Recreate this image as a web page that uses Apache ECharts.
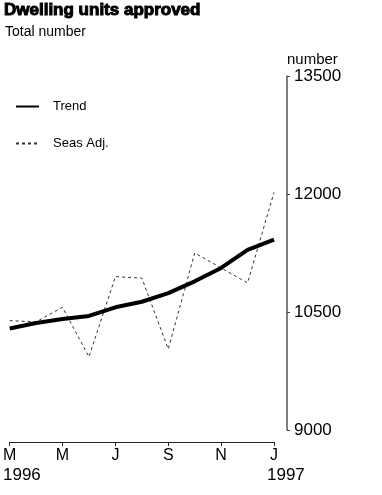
<!DOCTYPE html>
<html>
<head>
<meta charset="utf-8">
<script src="https://cdn.jsdelivr.net/npm/echarts@6/dist/echarts.min.js"></script>
<style>
html,body{margin:0;padding:0;background:#fff;}
#chart{width:382px;height:495px;}
</style>
</head>
<body>
<div id="chart"></div>
<script>
const months = ['M','A','M','J','J','A','S','O','N','D','J'];
const years = ['1996','','','','','','','','','','1997'];
const trend = [10290, 10360, 10410, 10450, 10560, 10630, 10740, 10890, 11060, 11290, 11420];
const seasAdj = [10390, 10375, 10560, 9930, 10950, 10930, 10030, 11250, 11060, 10870, 12020];
const yTicks = [9000, 10500, 12000, 13500];

const FONT = 'Liberation Sans';
const chart = echarts.init(document.getElementById('chart'), null, {renderer: 'canvas'});
chart.setOption({
  animation: false,
  backgroundColor: '#fff',
  textStyle: {fontFamily: FONT, color: '#000'},
  title: [
    {text: 'Dwelling units approved', left: 4, top: 2, padding: 0,
     textStyle: {fontFamily: FONT, fontSize: 17, fontWeight: 900, color: '#000', textBorderColor: '#000', textBorderWidth: 1}},
    {text: 'Total number', left: 5, top: 25, padding: 0,
     textStyle: {fontFamily: FONT, fontSize: 14, fontWeight: 'normal', color: '#000'}}
  ],
  legend: {
    orient: 'vertical', left: 15, top: 100, itemGap: 24, itemWidth: 23, itemHeight: 10,
    padding: 0,
    itemStyle: {opacity: 0},
    textStyle: {fontFamily: FONT, fontSize: 13, color: '#000', padding: [0, 0, 0, 9]},
    data: ['Trend', 'Seas Adj.']
  },
  grid: [
    {left: 8, right: 108, top: 76, bottom: 65},
    {left: 1, right: 115, top: 76, bottom: 65}
  ],
  xAxis: [
    {type: 'category', gridIndex: 0, data: months, boundaryGap: false, offset: 12,
     axisLine: {lineStyle: {color: '#222', width: 1}},
     axisTick: {interval: 1, length: 4, lineStyle: {color: '#222'}},
     axisLabel: {interval: 1, margin: 6, fontFamily: FONT, fontSize: 16, color: '#000'},
     splitLine: {show: false}},
    {type: 'category', gridIndex: 1, data: years, boundaryGap: false, offset: 12,
     axisLine: {show: false}, axisTick: {show: false},
     axisLabel: {interval: 0, margin: 25, align: 'left', fontFamily: FONT, fontSize: 17, color: '#000'},
     splitLine: {show: false}}
  ],
  yAxis: [
    {type: 'value', gridIndex: 0, position: 'right', offset: 13, min: 9000, max: 13500, interval: 1500,
     name: 'number', nameLocation: 'end', nameGap: 4,
     nameTextStyle: {fontFamily: FONT, fontSize: 15, color: '#000', align: 'left', padding: [0,0,0,0]},
     axisLine: {show: true, lineStyle: {color: '#555', width: 1.5}},
     axisTick: {show: true, inside: false, length: 3, lineStyle: {color: '#444'}},
     axisLabel: {margin: 7, fontFamily: FONT, fontSize: 17, color: '#000',
       formatter: v => yTicks.includes(v) ? String(v) : ''},
     splitLine: {show: false}},
    {type: 'value', gridIndex: 1, show: false, min: 0, max: 1}
  ],
  series: [
    {name: 'Trend', type: 'line', xAxisIndex: 0, yAxisIndex: 0, data: trend,
     symbol: 'none', lineStyle: {color: '#000', width: 4}, itemStyle: {color: '#000'}, z: 3},
    {name: 'Seas Adj.', type: 'line', xAxisIndex: 0, yAxisIndex: 0, data: seasAdj,
     symbol: 'none', lineStyle: {color: '#333', width: 1, type: [3, 3]}, itemStyle: {color: '#333'}, z: 2}
  ]
});
</script>
</body>
</html>
